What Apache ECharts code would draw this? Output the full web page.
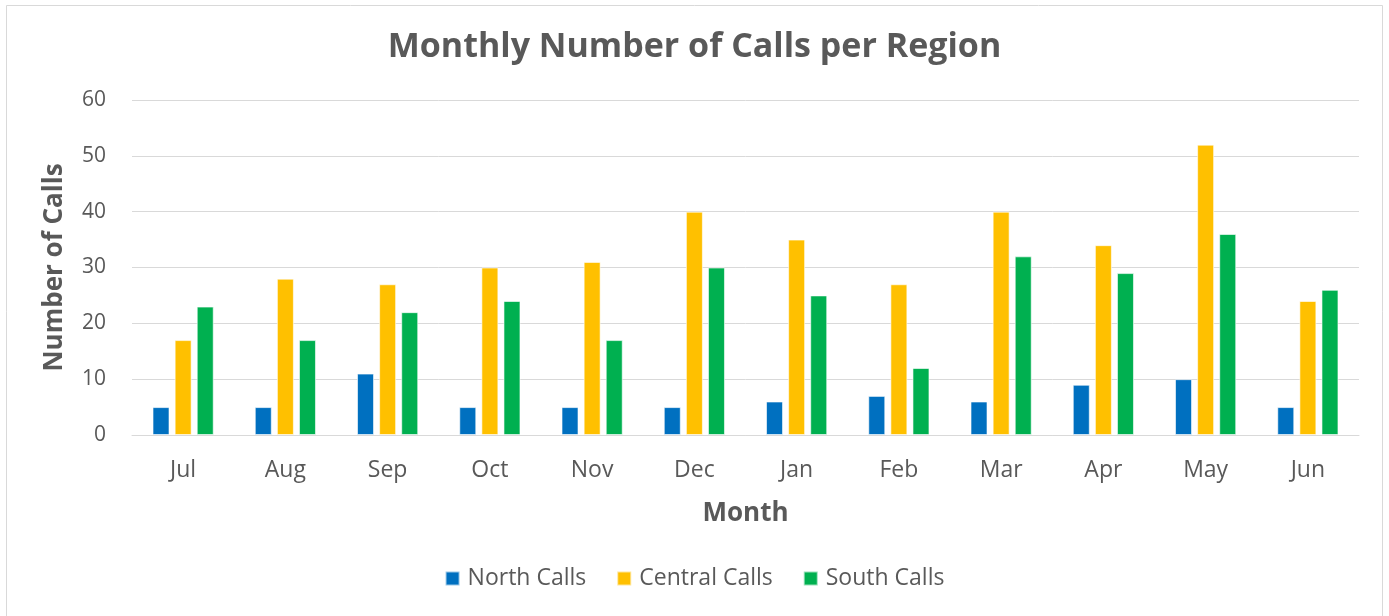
<!DOCTYPE html>
<html>
<head>
<meta charset="utf-8">
<script src="https://cdn.jsdelivr.net/npm/echarts@6/dist/echarts.min.js"></script>
<style>
  html, body { margin: 0; padding: 0; background: #fff; }
  #chart { width: 1389px; height: 616px; }
</style>
</head>
<body>
<div id="chart"></div>
<script>
const months = ['Jul', 'Aug', 'Sep', 'Oct', 'Nov', 'Dec', 'Jan', 'Feb', 'Mar', 'Apr', 'May', 'Jun']
const northCalls = [5, 5, 11, 5, 5, 5, 6, 7, 6, 9, 10, 5]
const centralCalls = [17, 28, 27, 30, 31, 40, 35, 27, 40, 34, 52, 24]
const southCalls = [23, 17, 22, 24, 17, 30, 25, 12, 32, 29, 36, 26]

const font = 'Open Sans, sans-serif'
const textColor = '#595959'

const chart = echarts.init(document.getElementById('chart'), null, { renderer: 'canvas' })

function bar(name, data, color) {
  return {
    name,
    type: 'bar',
    data,
    barWidth: 17,
    barGap: '30%',
    itemStyle: { color, borderColor: 'rgba(255,255,255,0.6)', borderWidth: 1 },
  }
}

chart.setOption({
  backgroundColor: '#fff',
  animation: false,
  graphic: [{
    type: 'rect',
    shape: { x: 6.5, y: 5.5, width: 1376, height: 620 },
    style: { fill: 'none', stroke: '#d9d9d9', lineWidth: 1 },
    silent: true,
  }],
  title: {
    text: 'Monthly Number of Calls per Region',
    left: 'center',
    top: 25,
    textStyle: { fontFamily: font, fontSize: 34, fontWeight: 'bold', color: textColor },
  },
  grid: { left: 132, right: 30, top: 100, bottom: 181, containLabel: false },
  legend: {
    bottom: 21,
    left: 'center',
    itemWidth: 14,
    itemHeight: 14,
    itemGap: 30,
    icon: 'rect',
    textStyle: { fontFamily: font, fontSize: 23, color: textColor, padding: [0, 0, 0, 3] },
    data: ['North Calls', 'Central Calls', 'South Calls'],
  },
  xAxis: {
    type: 'category',
    data: months,
    name: 'Month',
    nameLocation: 'middle',
    nameGap: 66,
    nameTextStyle: { fontFamily: font, fontSize: 26, fontWeight: 'bold', color: textColor },
    axisLine: { lineStyle: { color: '#d9d9d9', width: 1 } },
    axisTick: { show: false },
    axisLabel: { fontFamily: font, fontSize: 23, color: textColor, margin: 24 },
  },
  yAxis: {
    type: 'value',
    min: 0,
    max: 60,
    interval: 10,
    name: 'Number of Calls',
    nameLocation: 'middle',
    nameGap: 64,
    nameTextStyle: { fontFamily: font, fontSize: 26, fontWeight: 'bold', color: textColor },
    axisLine: { show: false },
    axisTick: { show: false },
    splitLine: { lineStyle: { color: '#d9d9d9', width: 1 } },
    axisLabel: { fontFamily: font, fontSize: 21, color: textColor, margin: 26 },
  },
  series: [
    bar('North Calls', northCalls, '#0070c0'),
    bar('Central Calls', centralCalls, '#ffc000'),
    bar('South Calls', southCalls, '#00b050'),
  ],
})
</script>
</body>
</html>
